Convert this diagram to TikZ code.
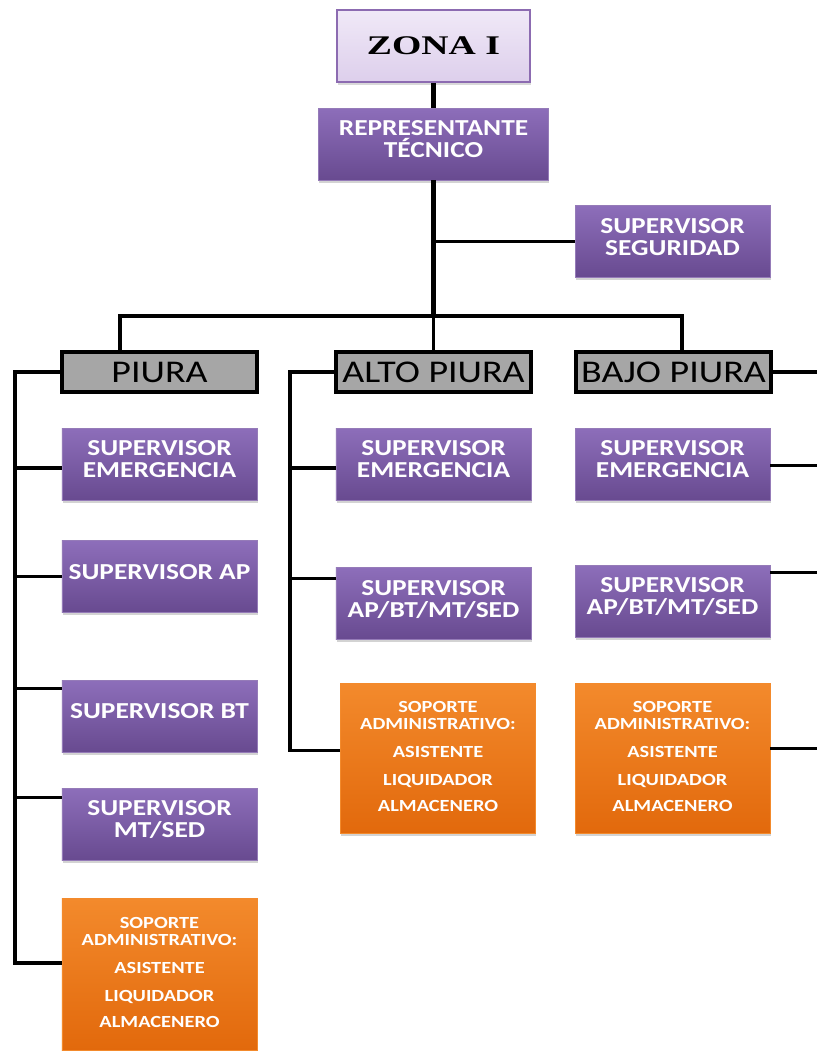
\documentclass[tikz,border=0pt]{standalone}
\usepackage{fontspec}
\setmainfont[FakeStretch=1.2]{Carlito}
\newfontfamily\zonafont[FakeStretch=1.4]{Liberation Serif}
\usepackage{xcolor}
\usetikzlibrary{calc,shadows}

\definecolor{boxpurple}{HTML}{7A5AA6}
\definecolor{purpletop}{HTML}{8D6EBA}
\definecolor{purplebot}{HTML}{684A90}
\definecolor{orangetop}{HTML}{F38A2C}
\definecolor{orangebot}{HTML}{E2690C}
\definecolor{zonafill}{HTML}{E6DAF2}
\definecolor{zonaline}{HTML}{8C6BB1}
\definecolor{zonagray}{HTML}{A6A6A6}

\tikzset{
  basebox/.style={minimum width=5.85cm, minimum height=2.16cm, align=center,
    inner sep=2pt, text=white,
    drop shadow={shadow xshift=0.6pt, shadow yshift=-2.2pt, opacity=0.35}},
  purplebox/.style={basebox, top color=purpletop, bottom color=purplebot,
    draw=boxpurple!80!white, line width=0.6pt, text depth=8pt,
    font=\bfseries\fontsize{19.5}{18.5}\selectfont},
  orangebox/.style={basebox, top color=orangetop, bottom color=orangebot,
    draw=orangetop, line width=0.6pt, text depth=3pt,
    font=\bfseries\fontsize{14.5}{14}\selectfont},
  graybox/.style={minimum width=5.85cm, minimum height=1.2cm, inner sep=1pt,
    fill=zonagray, draw=black, line width=3pt,
    font=\fontsize{27}{28}\selectfont},
  link/.style={draw=black, line width=2.6pt},
  trunk/.style={draw=black, line width=3.8pt}
}

\begin{document}
\begin{tikzpicture}[x=0.03cm, y=-0.03cm]
    \useasboundingbox (0, 0) rectangle (817, 1051);

    % Top of the chart
    \node[minimum width=5.79cm, minimum height=2.16cm, top color=zonafill!60!white,
      bottom color=zonafill!90!zonaline, draw=zonaline, line width=1.4pt,
      drop shadow={shadow xshift=0.6pt, shadow yshift=-2.2pt, opacity=0.3},
      font=\zonafont\bfseries\fontsize{23}{24}\selectfont] (zona) at (433.5, 46) {ZONA I};
    \node[purplebox, minimum width=6.9cm] (rep) at (433.5, 144) {REPRESENTANTE\\TÉCNICO};
    \node[purplebox] (seg) at (672.5, 241.5) {SUPERVISOR\\SEGURIDAD};

    % Districts
    \node[graybox] (piura) at (159.5, 372) {PIURA};
    \node[graybox] (alto) at (433.5, 372) {ALTO PIURA};
    \node[graybox] (bajo) at (673.5, 372) {BAJO PIURA};

    % Piura
    \node[purplebox] (p1) at (159.5, 464) {SUPERVISOR\\EMERGENCIA};
    \node[purplebox] (p2) at (159.5, 576.5) {SUPERVISOR AP};
    \node[purplebox] (p3) at (159.5, 716) {SUPERVISOR BT};
    \node[purplebox] (p4) at (159.5, 824) {SUPERVISOR\\MT/SED};
    \node[orangebox, minimum height=4.56cm] (p5) at (159.5, 974)
      {SOPORTE\\ADMINISTRATIVO:\\[10pt]ASISTENTE\\[10pt]LIQUIDADOR\\[8pt]ALMACENERO};

    % Alto Piura
    \node[purplebox] (a1) at (433.5, 464) {SUPERVISOR\\EMERGENCIA};
    \node[purplebox] (a2) at (433.5, 603.5) {SUPERVISOR\\AP/BT/MT/SED};
    \node[orangebox, minimum height=4.5cm] (a3) at (438, 758)
      {SOPORTE\\ADMINISTRATIVO:\\[10pt]ASISTENTE\\[10pt]LIQUIDADOR\\[8pt]ALMACENERO};

    % Bajo Piura
    \node[purplebox] (b1) at (672.5, 464) {SUPERVISOR\\EMERGENCIA};
    \node[purplebox] (b2) at (672.5, 601) {SUPERVISOR\\AP/BT/MT/SED};
    \node[orangebox, minimum height=4.5cm] (b3) at (672.5, 758)
      {SOPORTE\\ADMINISTRATIVO:\\[10pt]ASISTENTE\\[10pt]LIQUIDADOR\\[8pt]ALMACENERO};

    % Trunk
    \coordinate (hub) at (433.5, 316);
    \draw[trunk] (zona) -- (rep);
    \draw[trunk] (rep) -- (hub);
    \draw[link] (seg.west) -- (seg.west -| hub);

    % Bar to the districts
    \coordinate (pdrop) at (120, 316);
    \coordinate (bdrop) at (682, 316);
    \draw[link] (pdrop |- piura.north) -- (pdrop) -- (bdrop) -- (bdrop |- bajo.north);
    \draw[link] (hub) -- (alto.north);

    % Left spine of Piura
    \coordinate (pend) at (15, 965);
    \draw[trunk] (piura.west) -| (pend);
    \foreach \n/\dy in {p1/-3.4pt, p2/0pt, p3/23.8pt, p4/23pt, p5/9.4pt} {
        \coordinate (\n in) at ([yshift=\dy]\n.west);
        \draw[link] (\n in) -- (pend |- \n in);
    }

    % Left spine of Alto Piura
    \coordinate (aend) at (290, 752);
    \draw[link] (alto.west) -| (aend);
    \foreach \n/\dy in {a1/-3.4pt, a2/21.7pt, a3/6.8pt} {
        \coordinate (\n in) at ([yshift=\dy]\n.west);
        \draw[link] (\n in) -- (aend |- \n in);
    }

    % Bajo Piura runs off to the right
    \coordinate (bedge) at (817, 0);
    \draw[link] (bajo.east) -- (bedge |- bajo.east);
    \foreach \n/\dy in {b1/-1pt, b2/24.6pt, b3/8.5pt} {
        \coordinate (\n out) at ([yshift=\dy]\n.east);
        \draw[link] (\n out) -- (bedge |- \n out);
    }
\end{tikzpicture}
\end{document}
